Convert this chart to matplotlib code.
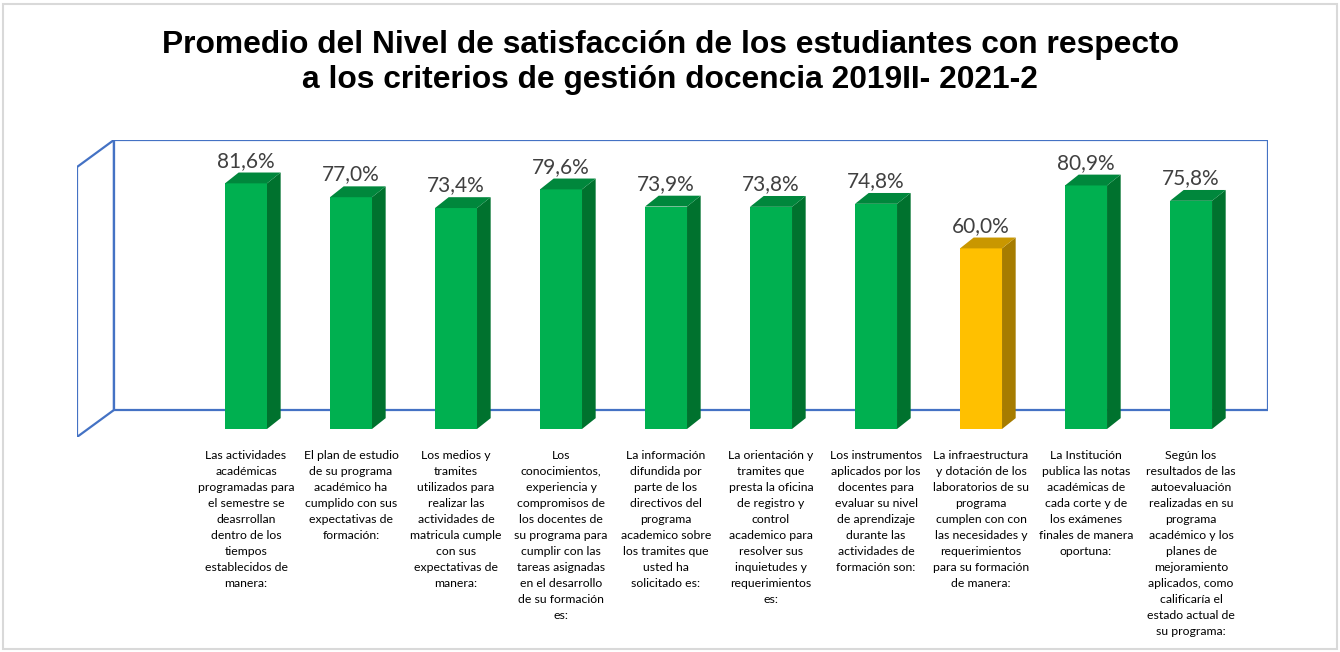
import matplotlib.pyplot as plt
from matplotlib.patches import Polygon, Rectangle

titulo = ['Promedio del Nivel de satisfacción de los estudiantes con respecto',
          'a los criterios de gestión docencia 2019II- 2021-2']

criterios = [
    'Las actividades\nacadémicas\nprogramadas para\nel semestre se\ndeasrrollan\ndentro de los\ntiempos\nestablecidos de\nmanera:',
    'El plan de estudio\nde su programa\nacadémico ha\ncumplido con sus\nexpectativas de\nformación:',
    'Los medios y\ntramites\nutilizados para\nrealizar las\nactividades de\nmatricula cumple\ncon sus\nexpectativas de\nmanera:',
    'Los\nconocimientos,\nexperiencia y\ncompromisos de\nlos docentes de\nsu programa para\ncumplir con las\ntareas asignadas\nen el desarrollo\nde su formación\nes:',
    'La información\ndifundida por\nparte de los\ndirectivos del\nprograma\nacademico sobre\nlos tramites que\nusted ha\nsolicitado es:',
    'La orientación y\ntramites que\npresta la oficina\nde registro y\ncontrol\nacademico para\nresolver sus\ninquietudes y\nrequerimientos\nes:',
    'Los instrumentos\naplicados por los\ndocentes para\nevaluar su nivel\nde aprendizaje\ndurante las\nactividades de\nformación son:',
    'La infraestructura\ny dotación de los\nlaboratorios de su\nprograma\ncumplen con con\nlas necesidades y\nrequerimientos\npara su formación\nde manera:',
    'La Institución\npublica las notas\nacadémicas de\ncada corte y de\nlos exámenes\nfinales de manera\noportuna:',
    'Según los\nresultados de las\nautoevaluación\nrealizadas en su\nprograma\nacadémico y los\nplanes de\nmejoramiento\naplicados, como\ncalificaría el\nestado actual de\nsu programa:',
]
promedios = [81.6, 77.0, 73.4, 79.6, 73.9, 73.8, 74.8, 60.0, 80.9, 75.8]

verde = ('#00B050', '#00873C', '#00722E')
amarillo = ('#FFC000', '#C99700', '#A67C00')

fig = plt.figure(figsize=(13.4, 6.52), dpi=100)
fig.patches.append(Rectangle((0.002, 0.004), 0.996, 0.99, transform=fig.transFigure,
                             fill=False, edgecolor='#D9D9D9', linewidth=1.5))

for linea, yb in zip(titulo, [0.9187, 0.865]):
    fig.text(0.5, yb, linea, ha='center', va='baseline', fontsize=22.9,
             fontweight='bold', family='Liberation Sans')

ax = fig.add_axes([77 / 1340, 1 - 437 / 652, 1191 / 1340, 297 / 652])
ax.set_xlim(-1.6095, 9.733)
ax.set_ylim(-2.66, 96.0)
ax.axis('off')

# paredes 3D (fondo y lateral izquierda)
azul = '#4472C4'
ax.add_patch(Rectangle((0.031, 0.0909), 0.969, 0.9091, transform=ax.transAxes,
                       fill=False, edgecolor=azul, linewidth=1.6, zorder=1))
ax.add_patch(Polygon([(0, 0), (0, 0.909), (0.031, 1), (0.031, 0.0909)], closed=True,
                     transform=ax.transAxes, fill=False, edgecolor=azul,
                     linewidth=1.6, zorder=1))

ancho = 0.4
dx, dy = 0.13, 3.6
for i, v in enumerate(promedios):
    c = amarillo if v < 70 else verde
    ax.bar(i, v, width=ancho, color=c[0], zorder=3)
    x1 = i + ancho / 2
    ax.add_patch(Polygon([(x1, 0), (x1, v), (x1 + dx, v + dy), (x1 + dx, dy)],
                         closed=True, facecolor=c[2], edgecolor='none', zorder=3))
    ax.add_patch(Polygon([(i - ancho / 2, v), (x1, v), (x1 + dx, v + dy),
                          (i - ancho / 2 + dx, v + dy)],
                         closed=True, facecolor=c[1], edgecolor='none', zorder=3))
    ax.annotate(f'{v:.1f}%'.replace('.', ','), (i, v), xytext=(0, 12),
                textcoords='offset points', ha='center', va='baseline',
                fontsize=15, family='Lato', color='#404040')
    ax.text(i, -0.043, criterios[i], transform=ax.get_xaxis_transform(),
            ha='center', va='top', fontsize=8.8, family='Lato',
            color='#000000', linespacing=1.56, clip_on=False)

fig.savefig('out.png', dpi=100)
